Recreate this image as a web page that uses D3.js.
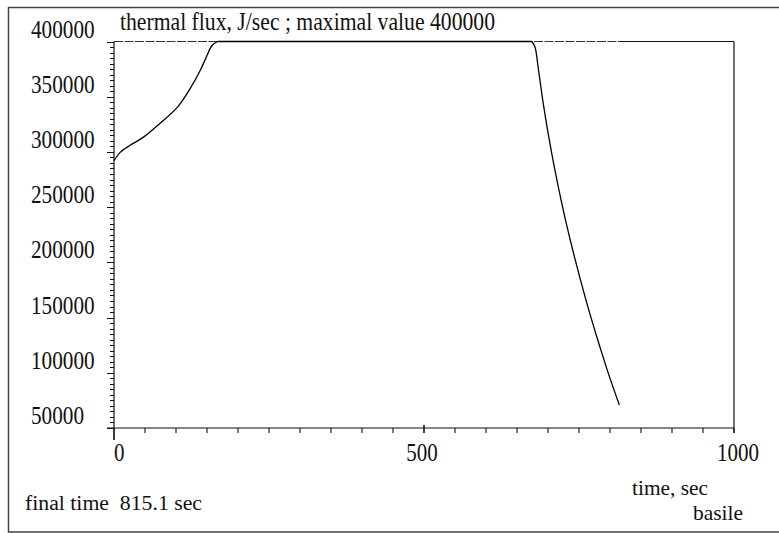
<!DOCTYPE html>
<html>
<head>
<meta charset="utf-8">
<script src="https://cdn.jsdelivr.net/npm/d3@7"></script>
<style>
  body { margin: 0; background: #fff; }
  text { font-family: "Liberation Serif", "Times New Roman", serif; fill: #111; }
</style>
</head>
<body>
<svg id="flux-graph"></svg>
<script>
// thermal flux curve (time in sec, flux in J/sec)
const fluxTime = [0, 10, 26, 47, 74, 102, 123, 139, 150, 158, 167,
                  674, 679, 684.4, 692, 700.8, 710.7, 720.6, 729.2, 741.3, 759.8, 773.8, 790.4, 802.8, 815.1];
const fluxValue = [292000, 299600, 306000, 313200, 325800, 340300, 357500, 373800, 387300, 396400, 400000,
                   400000, 395000, 375300, 345100, 315000, 284900, 257700, 236000, 208000, 168700, 141600, 111500, 90400, 70800];

const yTickValues = [50000, 100000, 150000, 200000, 250000, 300000, 350000, 400000];
const xTickValues = [0, 500, 1000];
const maxValue = 400000;
const finalTime = 815.1;

const titleText = "thermal flux, J/sec ; maximal value 400000";
const xAxisTitle = "time, sec";
const authorText = "basile";
const finalText = "final time\u00a0 815.1 sec";

const width = 779, height = 533;
const svg = d3.select("#flux-graph").attr("width", width).attr("height", height);

const x = d3.scaleLinear().domain([0, 1000]).range([114, 734]);
const y = d3.scaleLinear().domain([50000, 400000]).range([428, 41.5]);

// outer frame
svg.append("rect")
  .attr("x", 8.5).attr("y", 7.5)
  .attr("width", 790).attr("height", 524.5)
  .attr("fill", "none").attr("stroke", "#444").attr("stroke-width", 1.5);

// plot frame
const frame = svg.append("g").attr("stroke", "#111").attr("stroke-width", 1.2);
frame.append("line").attr("x1", x(0)).attr("x2", x(0)).attr("y1", y(maxValue)).attr("y2", y(50000) + 12);
frame.append("line").attr("x1", x(1000)).attr("x2", x(1000)).attr("y1", y(maxValue)).attr("y2", y(50000) + 5);
frame.append("line").attr("x1", x(0) - 7).attr("x2", x(1000)).attr("y1", y(50000)).attr("y2", y(50000));
frame.append("line").attr("x1", x(finalTime)).attr("x2", x(1000)).attr("y1", y(maxValue)).attr("y2", y(maxValue));

// maximal value line, up to final time
svg.append("line")
  .attr("x1", x(0)).attr("x2", x(finalTime))
  .attr("y1", y(maxValue)).attr("y2", y(maxValue))
  .attr("stroke", "#333").attr("stroke-width", 1.2)
  .attr("stroke-dasharray", "9,1.5");

// y ticks: minor every 5000, major every 50000
svg.append("g").selectAll("line")
  .data(d3.range(50000, 400001, 5000))
  .join("line")
  .attr("x1", d => d % 50000 === 0 ? x(0) - 7 : x(0) - 4)
  .attr("x2", x(0))
  .attr("y1", d => Math.round(y(d)) + 0.5)
  .attr("y2", d => Math.round(y(d)) + 0.5)
  .attr("stroke", "#111").attr("stroke-width", 1);

// x ticks every 50 sec
svg.append("g").selectAll("line")
  .data(d3.range(0, 1001, 50))
  .join("line")
  .attr("x1", d => x(d)).attr("x2", d => x(d))
  .attr("y1", d => d === 500 ? y(50000) - 3 : y(50000))
  .attr("y2", d => d === 0 ? y(50000) + 12 : y(50000) + 5)
  .attr("stroke", "#111").attr("stroke-width", d => d === 500 ? 1.6 : 1.1);

// y labels
svg.append("g").selectAll("text")
  .data(yTickValues)
  .join("text")
  .attr("x", 31)
  .attr("y", d => y(d) - 4)
  .attr("font-size", 26)
  .attr("textLength", d => String(d).length * 10.6)
  .attr("lengthAdjust", "spacingAndGlyphs")
  .text(d => d);

// x labels
svg.append("g").selectAll("text")
  .data(xTickValues)
  .join("text")
  .attr("x", d => x(d))
  .attr("dx", d => d === 1000 ? 4 : (d === 500 ? -2 : 0))
  .attr("y", 461)
  .attr("text-anchor", d => d === 0 ? "start" : "middle")
  .attr("font-size", 25)
  .attr("textLength", d => String(d).length * 10.5)
  .attr("lengthAdjust", "spacingAndGlyphs")
  .text(d => d);

// flux curve: smooth rise, flat plateau at the maximum, smooth drop
const pts = d3.zip(fluxTime, fluxValue);
const firstMax = fluxValue.indexOf(maxValue);
const lastMax = fluxValue.lastIndexOf(maxValue);

const smooth = d3.line()
  .x(d => x(d[0]))
  .y(d => y(d[1]))
  .curve(d3.curveCatmullRom.alpha(0.5));
const straight = d3.line()
  .x(d => x(d[0]))
  .y(d => y(d[1]));

const curve = svg.append("g")
  .attr("fill", "none")
  .attr("stroke", "#000")
  .attr("stroke-width", 1.3);
curve.append("path").datum(pts.slice(0, firstMax + 1)).attr("d", smooth);
curve.append("path").datum(pts.slice(firstMax, lastMax + 1)).attr("d", straight);
curve.append("path").datum(pts.slice(lastMax)).attr("d", smooth);

// texts
svg.append("text").attr("x", 120).attr("y", 30).attr("font-size", 25)
  .attr("textLength", 375).attr("lengthAdjust", "spacingAndGlyphs").text(titleText);
svg.append("text").attr("x", 632).attr("y", 495).attr("font-size", 21)
  .attr("textLength", 76).attr("lengthAdjust", "spacingAndGlyphs").text(xAxisTitle);
svg.append("text").attr("x", 693).attr("y", 520).attr("font-size", 22)
  .attr("textLength", 50).attr("lengthAdjust", "spacingAndGlyphs").text(authorText);
svg.append("text").attr("x", 25).attr("y", 510).attr("font-size", 20)
  .attr("textLength", 177).attr("lengthAdjust", "spacingAndGlyphs").text(finalText);
</script>
</body>
</html>
